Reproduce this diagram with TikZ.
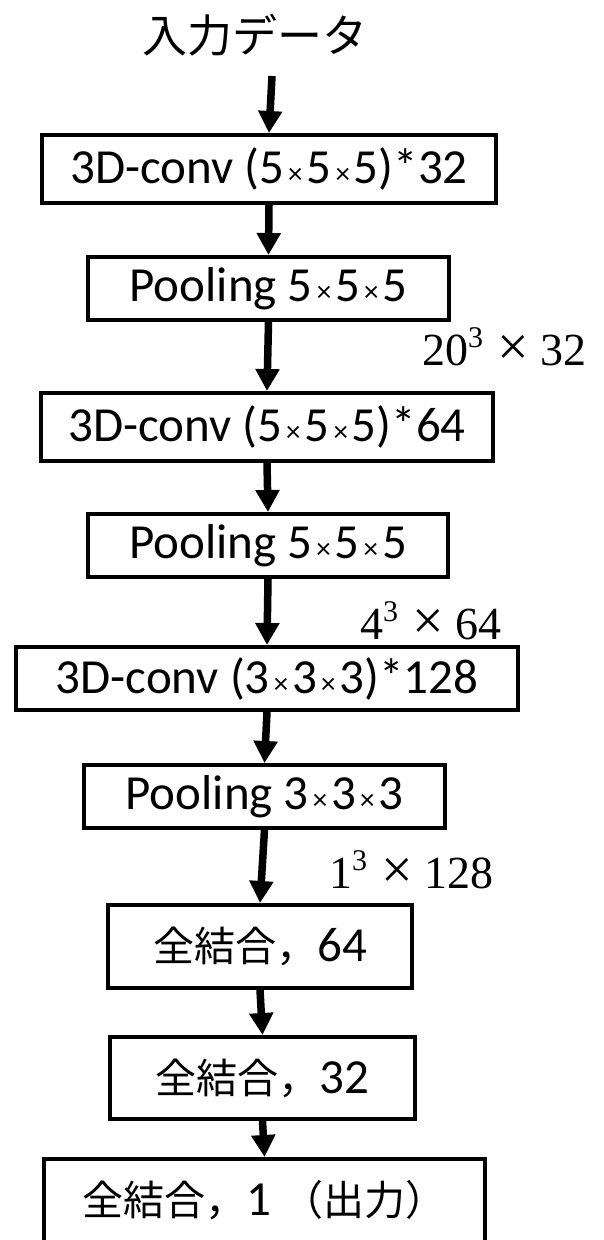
\documentclass[tikz,border=0pt]{standalone}
\usepackage{fontspec}
\setmainfont{Carlito}
\newfontfamily\jpfont{Noto Sans CJK JP}
\newfontfamily\serifnum{Liberation Serif}
\usetikzlibrary{arrows.meta}
\newcommand\xtm{\hspace{4pt}{\fontsize{29}{29}\selectfont ×}\hspace{4pt}}
\newcommand\dimtxt[3]{#1\raisebox{18pt}{\fontsize{30}{30}\selectfont #2}\hspace{14pt}{\fontsize{56}{56}\selectfont ×}\hspace{12pt}#3}
\newcommand\jpt[1]{{\jpfont\fontsize{41}{41}\selectfont #1}}
\begin{document}
\begin{tikzpicture}[x=1pt,y=-1pt,
  box/.style={draw, line width=4pt, inner sep=0pt, font=\fontsize{49}{52}\selectfont},
  flow/.style={line width=7.5pt, -{Triangle[width=23pt,length=22pt]}},
  dimlabel/.style={font=\serifnum\fontsize{46}{46}\selectfont, anchor=base west, inner sep=0pt},
  jp/.style={font=\jpfont\fontsize{45}{45}\selectfont, inner sep=0pt}
]
\useasboundingbox (0,0) rectangle (603,1240);

\node[jp] (inp) at (255,35) {入力データ};
\coordinate (start) at (272,76);

\node[box, minimum width=454pt, minimum height=68pt] (b1) at (269,169) {3D-conv (5\xtm5\xtm5)*32};
\node[box, minimum width=361pt, minimum height=63pt] (b2) at (268.5,288.5) {Pooling 5\xtm5\xtm5};
\node[box, minimum width=452pt, minimum height=68pt] (b3) at (267,427) {3D-conv (5\xtm5\xtm5)*64};
\node[box, minimum width=360pt, minimum height=63pt] (b4) at (268,545.5) {Pooling 5\xtm5\xtm5};
\node[box, minimum width=502pt, minimum height=63pt] (b5) at (267,678.5) {3D-conv (3\xtm3\xtm3)*128};
\node[box, minimum width=361pt, minimum height=63pt] (b6) at (264.5,796.5) {Pooling 3\xtm3\xtm3};
\node[box, minimum width=304pt, minimum height=83pt] (b7) at (260,946.5) {\jpt{全結合，}64};
\node[box, minimum width=305pt, minimum height=82pt] (b8) at (262.5,1078) {\jpt{全結合，}32};
\node[box, minimum width=441pt, minimum height=83pt] (b9) at (264.5,1200.5) {\jpt{全結合，}1\hspace{12pt}\jpt{（出力）}\hspace{20pt}};

\node[dimlabel] (l1) at (422,365) {\dimtxt{20}{3}{32}};
\node[dimlabel] (l2) at (360,639) {\dimtxt{4}{3}{64}};
\node[dimlabel] (l3) at (329,888) {\dimtxt{1}{3}{128}};

\draw[flow] (start) -- (b1.north);
\draw[flow] (b1.south) -- (b2.north);
\draw[flow] (b2.south) -- (b3.north);
\draw[flow] (b3.south) -- (b4.north);
\draw[flow] (b4.south) -- (b5.north);
\draw[flow] (b5.south) -- (b6.north);
\draw[flow] (b6.south) -- (b7.north);
\draw[flow] (b7.south) -- (b8.north);
\draw[flow] (b8.south) -- (b9.north);
\end{tikzpicture}
\end{document}
